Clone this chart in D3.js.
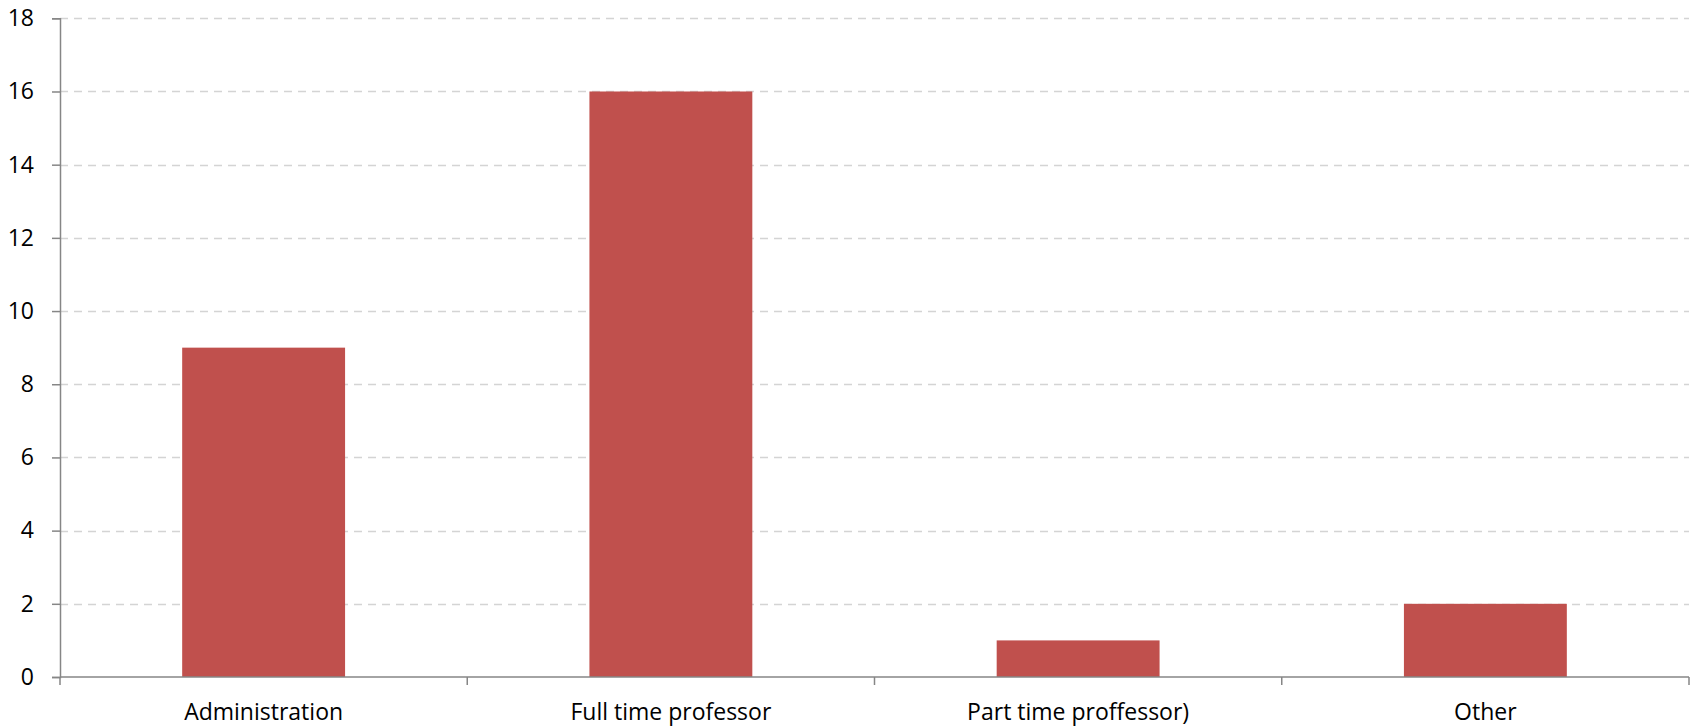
<!DOCTYPE html>
<html>
<head>
<meta charset="utf-8">
<script src="https://cdn.jsdelivr.net/npm/d3@7"></script>
<style>
  html, body { margin: 0; padding: 0; background: #fff; }
  svg { display: block; font-family: "Open Sans", "Noto Sans", sans-serif; }
</style>
</head>
<body>
<svg id="chart" width="1694" height="727"></svg>
<script>
// Staff counts by position
const categories = ["Administration", "Full time professor", "Part time proffessor)", "Other"];
const counts = [9, 16, 1, 2];
const yTicks = [0, 2, 4, 6, 8, 10, 12, 14, 16, 18];

const width = 1694, height = 727;
const margin = { top: 18.3, right: 5, bottom: 50, left: 60 };

const svg = d3.select("#chart");

const x = d3.scaleBand()
  .domain(categories)
  .range([margin.left, width - margin.right])
  .paddingInner(0.6)
  .paddingOuter(0.3);

const y = d3.scaleLinear()
  .domain([0, 18])
  .range([height - margin.bottom, margin.top]);

const x0 = margin.left, x1 = width - margin.right;

// dashed horizontal gridlines
svg.append("g")
  .selectAll("line")
  .data(yTicks.filter(d => d > 0))
  .join("line")
  .attr("x1", x0)
  .attr("x2", x1)
  .attr("y1", d => Math.round(y(d)) + 0.5)
  .attr("y2", d => Math.round(y(d)) + 0.5)
  .attr("stroke", "#d4d4d4")
  .attr("stroke-width", 1.5)
  .attr("stroke-dasharray", "8,6");

// bars
svg.append("g")
  .selectAll("rect")
  .data(categories)
  .join("rect")
  .attr("x", d => x(d))
  .attr("width", x.bandwidth())
  .attr("y", (d, i) => y(counts[i]))
  .attr("height", (d, i) => y(0) - y(counts[i]))
  .attr("fill", "#c0504d");

// y axis
const yAxis = d3.axisLeft(y)
  .tickValues(yTicks)
  .tickSize(8)
  .tickPadding(18)
  .tickFormat(d3.format("d"));

const gy = svg.append("g")
  .attr("transform", `translate(${x0},0)`)
  .call(yAxis);
gy.select(".domain").attr("stroke", "#868686").attr("stroke-width", 1.5);
gy.selectAll(".tick line").attr("stroke", "#868686").attr("stroke-width", 1.5);
gy.selectAll(".tick text")
  .attr("fill", "#000")
  .style("font-size", "23px")
  .style("font-family", "'Open Sans', sans-serif");

// x axis baseline with boundary ticks
const baseY = y(0);
svg.append("line")
  .attr("x1", x0).attr("x2", x1)
  .attr("y1", baseY).attr("y2", baseY)
  .attr("stroke", "#868686").attr("stroke-width", 1.5);

const bounds = d3.range(categories.length + 1).map(i => x0 + (x1 - x0) * i / categories.length);
svg.append("g")
  .selectAll("line")
  .data(bounds)
  .join("line")
  .attr("x1", d => d).attr("x2", d => d)
  .attr("y1", baseY).attr("y2", baseY + 8)
  .attr("stroke", "#868686").attr("stroke-width", 1.5);

// category labels
svg.append("g")
  .selectAll("text")
  .data(categories)
  .join("text")
  .attr("x", d => x(d) + x.bandwidth() / 2)
  .attr("y", baseY + 43)
  .attr("text-anchor", "middle")
  .attr("fill", "#000")
  .style("font-size", "23px")
  .text(d => d);
</script>
</body>
</html>
